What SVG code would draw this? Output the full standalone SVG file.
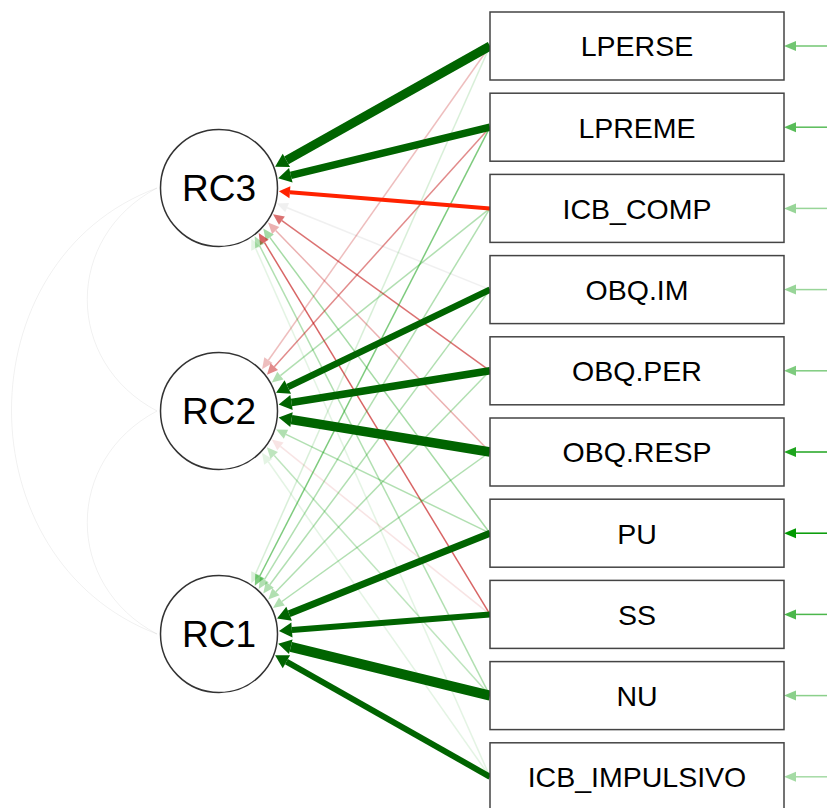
<svg xmlns="http://www.w3.org/2000/svg" width="827" height="808" viewBox="0 0 827 808">
<style>
.box{fill:#fff;stroke:#444;stroke-width:1.5}
.lat{fill:#fff;stroke:#333;stroke-width:1.5}
.bt{font-family:"Liberation Sans",Arial,sans-serif;font-size:28.5px;fill:#000;text-anchor:middle}
.lt{font-family:"Liberation Sans",Arial,sans-serif;font-size:37px;fill:#000;text-anchor:middle}
.dg{stroke:#006400;fill:none;marker-end:url(#ah-dg)}
.rd{stroke:#ff2200;fill:none;marker-end:url(#ah-rd)}
.g{stroke:#009900;stroke-width:1.5;fill:none;marker-end:url(#ah-g)}
.r{stroke:#BF0000;stroke-width:1.5;fill:none;marker-end:url(#ah-r)}
.gy{stroke:#888;stroke-width:1.5;fill:none;marker-end:url(#ah-gy)}
.res{stroke:#009900;stroke-width:1.5;fill:none;marker-end:url(#ah-res)}
.cov{stroke:#000;stroke-opacity:0.06;stroke-width:1;fill:none}
</style>
<defs>
<marker id="ah-dg" markerUnits="userSpaceOnUse" viewBox="0 -9 14 18" markerWidth="14" markerHeight="18" refX="0" refY="0" orient="auto" overflow="visible"><path d="M0,-7.5 L13,0 L0,7.5 Z" fill="#006400"/></marker>
<marker id="ah-rd" markerUnits="userSpaceOnUse" viewBox="0 -7 12 14" markerWidth="12" markerHeight="14" refX="0" refY="0" orient="auto" overflow="visible"><path d="M0,-6 L11,0 L0,6 Z" fill="#ff2200"/></marker>
<marker id="ah-g" markerUnits="userSpaceOnUse" viewBox="0 -6 12 12" markerWidth="12" markerHeight="12" refX="0" refY="0" orient="auto" overflow="visible"><path d="M0,-5 L11,0 L0,5 Z" fill="#009900"/></marker>
<marker id="ah-r" markerUnits="userSpaceOnUse" viewBox="0 -6 12 12" markerWidth="12" markerHeight="12" refX="0" refY="0" orient="auto" overflow="visible"><path d="M0,-5 L11,0 L0,5 Z" fill="#BF0000"/></marker>
<marker id="ah-gy" markerUnits="userSpaceOnUse" viewBox="0 -6 12 12" markerWidth="12" markerHeight="12" refX="0" refY="0" orient="auto" overflow="visible"><path d="M0,-5 L11,0 L0,5 Z" fill="#888"/></marker>
<marker id="ah-res" markerUnits="userSpaceOnUse" viewBox="0 -6 13 12" markerWidth="13" markerHeight="12" refX="0" refY="0" orient="auto" overflow="visible"><path d="M0,-5 L12,0 L0,5 Z" fill="#009900"/></marker>
</defs>
<rect width="827" height="808" fill="#fff"/>
<g id="connectors">
<path class="cov" d="M157,188 C64,237 64,362 157,411"/>
<path class="cov" d="M157,411 C64,460 64,585 157,634"/>
<path class="cov" d="M157,188 C-37,260 -37,560 157,634"/>
<line class="gy" opacity="0.12" x1="490" y1="289.6" x2="287.1" y2="207.7"/>
<line class="r" opacity="0.55" x1="490" y1="370.8" x2="281.9" y2="220.6"/>
<line class="r" opacity="0.3" x1="490" y1="452" x2="275.7" y2="230.4"/>
<line class="g" opacity="0.35" x1="490" y1="533.2" x2="269.8" y2="237.4"/>
<line class="r" opacity="0.6" x1="490" y1="614.4" x2="264.4" y2="242.4"/>
<line class="g" opacity="0.3" x1="490" y1="695.6" x2="259.7" y2="246"/>
<line class="g" opacity="0.1" x1="490" y1="776.8" x2="255.8" y2="248.7"/>
<line class="r" opacity="0.25" x1="490" y1="46" x2="268.4" y2="360.2"/>
<line class="r" opacity="0.45" x1="490" y1="127.2" x2="274.3" y2="366.7"/>
<line class="g" opacity="0.3" x1="490" y1="208.4" x2="280.4" y2="375.6"/>
<line class="g" opacity="0.3" x1="490" y1="533.2" x2="286" y2="434.3"/>
<line class="r" opacity="0.1" x1="490" y1="614.4" x2="280.4" y2="446.4"/>
<line class="g" opacity="0.25" x1="490" y1="695.6" x2="274.2" y2="455.4"/>
<line class="g" opacity="0.1" x1="490" y1="776.8" x2="268.3" y2="461.8"/>
<line class="g" opacity="0.15" x1="490" y1="46" x2="255.8" y2="573.3"/>
<line class="g" opacity="0.5" x1="490" y1="127.2" x2="259.8" y2="576"/>
<line class="g" opacity="0.3" x1="490" y1="208.4" x2="264.4" y2="579.6"/>
<line class="g" opacity="0.3" x1="490" y1="289.6" x2="269.8" y2="584.7"/>
<line class="g" opacity="0.3" x1="490" y1="370.8" x2="275.9" y2="591.7"/>
<line class="g" opacity="0.3" x1="490" y1="452" x2="281.9" y2="601.5"/>
<line class="dg" stroke-width="9" x1="490" y1="46" x2="286.4" y2="160.4"/>
<line class="dg" stroke-width="7.5" x1="490" y1="127.2" x2="290.8" y2="175.3"/>
<line class="rd" stroke-width="4" x1="490" y1="208.4" x2="289.9" y2="192.2"/>
<line class="dg" stroke-width="6.5" x1="490" y1="289.6" x2="287.8" y2="387"/>
<line class="dg" stroke-width="7.5" x1="490" y1="370.8" x2="291.5" y2="402.5"/>
<line class="dg" stroke-width="9.5" x1="490" y1="452" x2="291.5" y2="419.6"/>
<line class="dg" stroke-width="7" x1="490" y1="533.2" x2="289.1" y2="613.7"/>
<line class="dg" stroke-width="6" x1="490" y1="614.4" x2="291.9" y2="629.9"/>
<line class="dg" stroke-width="10" x1="490" y1="695.6" x2="290.8" y2="646.8"/>
<line class="dg" stroke-width="6" x1="490" y1="776.8" x2="286.4" y2="661.7"/>
<line class="res" opacity="0.55" x1="827" y1="46" x2="796" y2="46"/>
<line class="res" opacity="0.65" x1="827" y1="127.2" x2="796" y2="127.2"/>
<line class="res" opacity="0.4" x1="827" y1="208.4" x2="796" y2="208.4"/>
<line class="res" opacity="0.4" x1="827" y1="289.6" x2="796" y2="289.6"/>
<line class="res" opacity="0.5" x1="827" y1="370.8" x2="796" y2="370.8"/>
<line class="res" opacity="0.88" x1="827" y1="452" x2="796" y2="452"/>
<line class="res" opacity="1" x1="827" y1="533.2" x2="796" y2="533.2"/>
<line class="res" opacity="0.7" x1="827" y1="614.4" x2="796" y2="614.4"/>
<line class="res" opacity="0.45" x1="827" y1="695.6" x2="796" y2="695.6"/>
<line class="res" opacity="0.35" x1="827" y1="776.8" x2="796" y2="776.8"/>
</g>
<g id="RC3"><circle class="lat" cx="219" cy="188" r="58.5"/><text class="lt" x="219" y="201">RC3</text></g>
<g id="RC2"><circle class="lat" cx="219" cy="411" r="58.5"/><text class="lt" x="219" y="424">RC2</text></g>
<g id="RC1"><circle class="lat" cx="219" cy="634" r="58.5"/><text class="lt" x="219" y="647">RC1</text></g>
<g id="LPERSE"><rect class="box" x="490" y="12" width="294" height="68"/><text class="bt" x="637" y="56.3">LPERSE</text></g>
<g id="LPREME"><rect class="box" x="490" y="93.2" width="294" height="68"/><text class="bt" x="637" y="137.5">LPREME</text></g>
<g id="ICB_COMP"><rect class="box" x="490" y="174.4" width="294" height="68"/><text class="bt" x="637" y="218.7">ICB_COMP</text></g>
<g id="OBQ.IM"><rect class="box" x="490" y="255.6" width="294" height="68"/><text class="bt" x="637" y="299.9">OBQ.IM</text></g>
<g id="OBQ.PER"><rect class="box" x="490" y="336.8" width="294" height="68"/><text class="bt" x="637" y="381.1">OBQ.PER</text></g>
<g id="OBQ.RESP"><rect class="box" x="490" y="418" width="294" height="68"/><text class="bt" x="637" y="462.3">OBQ.RESP</text></g>
<g id="PU"><rect class="box" x="490" y="499.2" width="294" height="68"/><text class="bt" x="637" y="543.5">PU</text></g>
<g id="SS"><rect class="box" x="490" y="580.4" width="294" height="68"/><text class="bt" x="637" y="624.7">SS</text></g>
<g id="NU"><rect class="box" x="490" y="661.6" width="294" height="68"/><text class="bt" x="637" y="705.9">NU</text></g>
<g id="ICB_IMPULSIVO"><rect class="box" x="490" y="742.8" width="294" height="68"/><text class="bt" x="637" y="787.1">ICB_IMPULSIVO</text></g>
</svg>
